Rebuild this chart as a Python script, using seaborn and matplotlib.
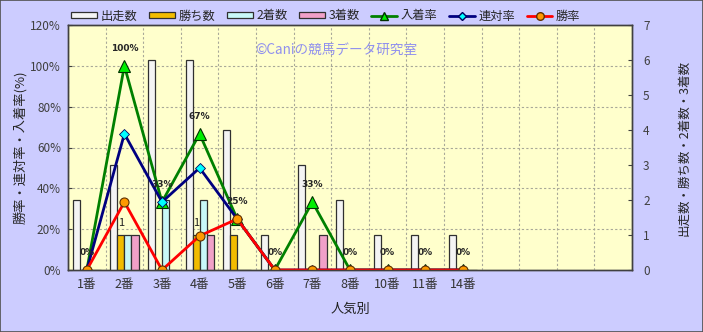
import numpy as np
import pandas as pd
import matplotlib
matplotlib.use("Agg")
import matplotlib.pyplot as plt
import seaborn as sns
from matplotlib.ticker import FixedLocator, FuncFormatter
from matplotlib.lines import Line2D
from matplotlib.patches import Patch, Rectangle

# ---------------- data ----------------
categories = ['1番', '2番', '3番', '4番', '5番', '6番', '7番', '8番', '10番', '11番', '14番']
starts  = [2, 3, 6, 6, 4, 1, 3, 2, 1, 1, 1]
wins    = [0, 1, 0, 1, 1, 0, 0, 0, 0, 0, 0]
seconds = [0, 1, 2, 2, 0, 0, 0, 0, 0, 0, 0]
thirds  = [0, 1, 0, 1, 0, 0, 1, 0, 0, 0, 0]
win_rate   = [0, 33.3, 0, 16.7, 25, 0, 0, 0, 0, 0, 0]
ren_rate   = [0, 66.7, 33.3, 50, 25, 0, 0, 0, 0, 0, 0]
place_rate = [0, 100, 33.3, 66.7, 25, 0, 33.3, 0, 0, 0, 0]
place_labels = ['0%', '100%', '33%', '67%', '25%', '0%', '33%', '0%', '0%', '0%', '0%']
win_labels = ['', '1', '', '1', '', '', '', '', '', '', '']
count_series = ['出走数', '勝ち数', '2着数', '3着数']
n_slots = 15

sns.set_style("white")
plt.rcParams['font.family'] = ['Noto Sans CJK JP', 'DejaVu Sans']

FIG_BG = '#CCCCFF'
PLOT_BG = '#FFFFCC'
bar_colors = ['#F4F4F4', '#F2BC00', '#C8F8F8', '#F0A0C8']

df = pd.DataFrame({
    'cat': categories * 4,
    'series': np.repeat(count_series, len(categories)),
    'value': starts + wins + seconds + thirds,
})

fig = plt.figure(figsize=(7.03, 3.32), dpi=100)
fig.patch.set_facecolor(FIG_BG)
ax = fig.add_axes([68 / 703, 1 - 270 / 332, 564 / 703, 245 / 332])
ax2 = ax.twinx()
ax.set_zorder(2)
ax2.set_zorder(1)
ax.patch.set_visible(False)
ax2.patch.set_visible(True)
ax2.patch.set_facecolor(PLOT_BG)

# bars (counts, right axis)
sns.barplot(data=df, x='cat', y='value', hue='series', order=categories,
            hue_order=count_series, palette=bar_colors, ax=ax2, width=0.75,
            edgecolor='#303030', linewidth=0.9, legend=False, saturation=1)
for b in ax2.patches:
    b.set_zorder(3)

# lines (rates, left axis)
pos = np.arange(len(categories))
sns.lineplot(x=pos, y=place_rate, ax=ax, color='#008000', linewidth=2,
             marker='^', markersize=8, markerfacecolor='#00EE00',
             markeredgecolor='#003000', markeredgewidth=0.8)
sns.lineplot(x=pos, y=ren_rate, ax=ax, color='#000080', linewidth=2,
             marker='D', markersize=5.5, markerfacecolor='#00FFFF',
             markeredgecolor='#000060', markeredgewidth=0.6)
sns.lineplot(x=pos, y=win_rate, ax=ax, color='#FF0000', linewidth=2,
             marker='o', markersize=6.5, markerfacecolor='#FF9900',
             markeredgecolor='#603000', markeredgewidth=0.8)

for i, (v, lab) in enumerate(zip(place_rate, place_labels)):
    ax.annotate(lab, (i, v), xytext=(0, 12.5), textcoords='offset points',
                ha='center', va='center', fontsize=6.5, fontweight='bold',
                family=['DejaVu Sans'])
for i, (v, lab) in enumerate(zip(wins, win_labels)):
    if lab:
        ax2.annotate(lab, (i - 0.094, v), xytext=(0, 9), textcoords='offset points',
                     ha='center', va='center', fontsize=8, color='#202020')

# axes scales
ax.set_xlim(-0.5, n_slots - 0.5)
ax.set_ylim(0, 120)
ax2.set_ylim(0, 7)
ax.set_yticks(np.arange(0, 121, 20))
ax.yaxis.set_major_formatter(FuncFormatter(lambda v, p: f'{v:.0f}%'))
ax2.set_yticks(np.arange(0, 8, 1))
ax.set_xticks(pos)
ax.set_xticklabels(categories)
ax.xaxis.set_minor_locator(FixedLocator(np.arange(-0.5, n_slots, 1)))

# horizontal grid on the bar axis (behind bars), vertical grid at slot boundaries
ax2.yaxis.set_minor_locator(FixedLocator(np.arange(0, 121, 20) * 7 / 120))
ax2.grid(which='minor', axis='y', color='#A8A898', linestyle=(0, (2, 2)), linewidth=0.8)
ax2.grid(which='major', visible=False)
ax2.set_axisbelow(True)
ax.grid(False)
ax.grid(which='minor', axis='x', color='#A8A898', linestyle=(0, (2, 2)), linewidth=0.8)

ax.tick_params(axis='x', which='major', length=0, labelsize=9, labelcolor='#333333', pad=6)
ax.tick_params(axis='x', which='minor', length=3, direction='in', color='#404040')
ax.tick_params(axis='y', length=3, direction='in', labelsize=8.5, labelcolor='#404040', pad=5, color='#404040')
ax2.tick_params(axis='y', which='major', length=3, direction='in', labelsize=8.5, labelcolor='#404040', pad=8, color='#404040')
ax2.tick_params(axis='y', which='minor', length=0)

for a in (ax, ax2):
    for s in a.spines.values():
        s.set_color('#404040')
        s.set_linewidth(1)

ax.set_xlabel('人気別', fontsize=9.5, labelpad=8, color='#202020')
ax.set_ylabel('勝率・連対率・入着率(%)', fontsize=9.5, labelpad=2)
ax2.set_ylabel('出走数・勝ち数・2着数・3着数', fontsize=9, labelpad=20, rotation=90)

# watermark
ax.text((336 - 68) / 564, 1 - (50 - 25) / 245, '©Caniの競馬データ研究室', transform=ax.transAxes,
        ha='center', va='center', fontsize=9.8, color='#9090EE')

# legend
handles = [Patch(facecolor=c, edgecolor='#303030', linewidth=0.9) for c in bar_colors]
handles += [
    Line2D([], [], color='#008000', lw=2, marker='^', markersize=6, markerfacecolor='#00EE00', markeredgecolor='#003000'),
    Line2D([], [], color='#000080', lw=2, marker='D', markersize=4, markerfacecolor='#00FFFF', markeredgecolor='#000060'),
    Line2D([], [], color='#FF0000', lw=2, marker='o', markersize=5.5, markerfacecolor='#FF9900', markeredgecolor='#603000'),
]
labels = count_series + ['入着率', '連対率', '勝率']
fig.legend(handles, labels, loc='center', bbox_to_anchor=(326 / 703, 1 - 16 / 332),
           ncol=7, frameon=False, fontsize=8.8, handlelength=2.1, handleheight=0.45,
           handletextpad=0.3, columnspacing=0.95, borderaxespad=0)

fig.add_artist(Rectangle((0.0007, 0.0015), 0.9986, 0.997, transform=fig.transFigure,
                         fill=False, edgecolor='#505050', linewidth=1.2))

fig.savefig('out.png', dpi=100, facecolor=FIG_BG)
